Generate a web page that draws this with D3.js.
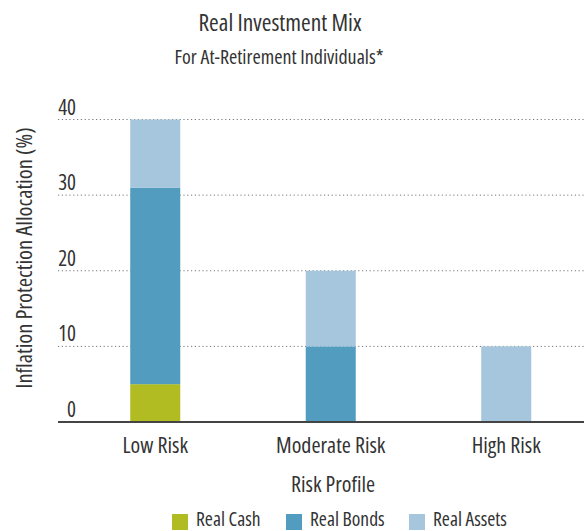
<!DOCTYPE html>
<html><head><meta charset="utf-8">
<script src="https://cdn.jsdelivr.net/npm/d3@7"></script>
<style>body{margin:0;background:#fff;} svg{display:block;} text{font-family:"Open Sans",sans-serif;font-stretch:87.5%;fill:#333;}</style>
</head><body>
<svg id="c" width="584" height="531"></svg>
<script>
const categories = ["Low Risk", "Moderate Risk", "High Risk"];
const seriesNames = ["Real Cash", "Real Bonds", "Real Assets"];
const realCash = [5, 0, 0];
const realBonds = [26, 10, 0];
const realAssets = [9, 10, 10];
const yTicks = [0, 10, 20, 30, 40];
const colors = ["#b0bc22", "#529dbf", "#a5c6dc"];

const svg = d3.select("#c");
const W = 584, H = 531;
const x = d3.scaleBand().domain(categories).range([67.5, 594]).padding(0);
const y = d3.scaleLinear().domain([0, 40]).range([422, 119.5]);
const barW = x.bandwidth() * 0.285;

const rows = categories.map((c, i) => ({cat: c, "Real Cash": realCash[i], "Real Bonds": realBonds[i], "Real Assets": realAssets[i]}));
const stack = d3.stack().keys(seriesNames)(rows);
const color = d3.scaleOrdinal().domain(seriesNames).range(colors);

// gridlines
const grid = svg.append("g");
yTicks.filter(t => t > 0).forEach(t => {
  grid.append("line").attr("x1", 58).attr("x2", W).attr("y1", y(t)).attr("y2", y(t))
    .attr("stroke", "#777").attr("stroke-width", 1).attr("stroke-dasharray", "1.2,2.6");
});
// tick labels
yTicks.forEach(t => {
  svg.append("text").attr("x", 76).attr("y", y(t) - 5).attr("text-anchor", "end")
    .attr("font-size", 21).text(t);
});

// bars
svg.append("g").selectAll("g").data(stack).join("g").attr("fill", d => color(d.key))
  .selectAll("rect").data(d => d.filter(s => s[1] - s[0] > 0)).join("rect")
  .attr("x", d => x(d.data.cat) + x.bandwidth() / 2 - barW / 2)
  .attr("width", barW)
  .attr("y", d => y(d[1]))
  .attr("height", d => y(d[0]) - y(d[1]));

// zero line
svg.append("line").attr("x1", 58).attr("x2", W).attr("y1", y(0)).attr("y2", y(0))
  .attr("stroke", "#444").attr("stroke-width", 2);

// category labels
categories.forEach(c => {
  svg.append("text").attr("x", x(c) + x.bandwidth() / 2).attr("y", 453).attr("text-anchor", "middle")
    .attr("font-size", 22).text(c);
});

// titles
svg.append("text").attr("x", 280).attr("y", 31).attr("text-anchor", "middle").attr("font-size", 23.4).text("Real Investment Mix");
svg.append("text").attr("x", 279).attr("y", 64).attr("text-anchor", "middle").attr("font-size", 20).text("For At-Retirement Individuals*");
svg.append("text").attr("x", 333).attr("y", 492).attr("text-anchor", "middle").attr("font-size", 22).text("Risk Profile");
svg.append("text").attr("transform", "translate(32,258) rotate(-90)").attr("text-anchor", "middle").attr("font-size", 22.5).text("Inflation Protection Allocation (%)");

// legend
const legX = [172, 286, 409];
seriesNames.forEach((s, i) => {
  svg.append("rect").attr("x", legX[i]).attr("y", 514).attr("width", 16).attr("height", 16).attr("fill", color(s));
  svg.append("text").attr("x", legX[i] + 24).attr("y", 525.5).attr("font-size", 19.5).text(s);
});
</script>
</body></html>
